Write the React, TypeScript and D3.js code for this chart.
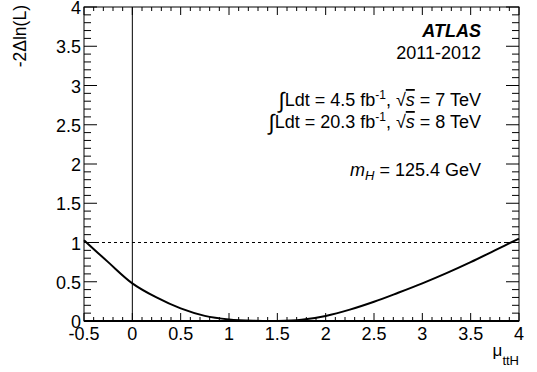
import React from "react";
import * as d3 from "d3";

// profile likelihood scan
const muValues = [-0.5, -0.25, 0, 0.25, 0.5, 0.75, 1, 1.25, 1.5, 1.75, 2, 2.25, 2.5, 2.75, 3, 3.25, 3.5, 3.75, 4];
const nllValues = [1.03, 0.75, 0.48, 0.3, 0.16, 0.065, 0.02, 0.003, 0, 0.015, 0.065, 0.145, 0.245, 0.36, 0.48, 0.61, 0.75, 0.9, 1.05];
const xTicks = [-0.5, 0, 0.5, 1, 1.5, 2, 2.5, 3, 3.5, 4];
const yTicks = [0, 0.5, 1, 1.5, 2, 2.5, 3, 3.5, 4];

const W = 537;
const H = 372;
const left = 84;
const right = 519;
const top = 7;
const bottom = 321;
const font = "'Liberation Sans', Arial, sans-serif";

const App = () => {
  const x = d3.scaleLinear().domain([-0.5, 4]).range([left, right]);
  const y = d3.scaleLinear().domain([0, 4]).range([bottom, top]);

  const line = d3
    .line<number>()
    .x((d, i) => x(muValues[i]))
    .y((d) => Math.min(y(d), bottom))
    .curve(d3.curveCatmullRom);

  const xMinor = d3.range(-0.5, 4.001, 0.1).map((v) => +v.toFixed(2));
  const yMinor = d3.range(0, 4.001, 0.1).map((v) => +v.toFixed(2));
  const isMajor = (v: number) => Math.abs(v * 2 - Math.round(v * 2)) < 1e-6;

  return (
    <svg width={W} height={H} style={{ position: "absolute", left: 0, top: 0, background: "white" }} fontFamily={font}>
      {/* vertical line at 0 and dashed line at 1 */}
      <line x1={x(0)} x2={x(0)} y1={top} y2={bottom} stroke="black" strokeWidth={1} />
      <line x1={left} x2={right} y1={y(1)} y2={y(1)} stroke="black" strokeWidth={1} strokeDasharray="3,3" />

      <path d={line(nllValues) || ""} fill="none" stroke="black" strokeWidth={2} />

      {/* ticks, inside, all four sides */}
      <g stroke="black" strokeWidth={1}>
        {xMinor.map((v) => {
          const len = isMajor(v) ? 8 : 4;
          return (
            <g key={"x" + v}>
              <line x1={x(v)} x2={x(v)} y1={bottom} y2={bottom - len} />
              <line x1={x(v)} x2={x(v)} y1={top} y2={top + len} />
            </g>
          );
        })}
        {yMinor.map((v) => {
          const len = isMajor(v) ? 13 : 7;
          return (
            <g key={"y" + v}>
              <line x1={left} x2={left + len} y1={y(v)} y2={y(v)} />
              <line x1={right} x2={right - len} y1={y(v)} y2={y(v)} />
            </g>
          );
        })}
      </g>

      <rect x={left} y={top} width={right - left} height={bottom - top} fill="none" stroke="black" strokeWidth={1} />
      <line x1={left} x2={right} y1={bottom} y2={bottom} stroke="black" strokeWidth={2} />

      {/* tick labels */}
      <g fontSize={18} fill="black">
        {xTicks.map((v) => (
          <text key={"xl" + v} x={x(v)} y={339.5} textAnchor="middle">
            {v}
          </text>
        ))}
        {yTicks.map((v) => (
          <text key={"yl" + v} x={left - 3} y={y(v) + 7} textAnchor="end">
            {v}
          </text>
        ))}
      </g>

      {/* axis titles */}
      <text transform={`translate(26,${top - 2}) rotate(-90)`} textAnchor="end" fontSize={17.5}>
        -2Δln(L)
      </text>
      <text x={519} y={356} textAnchor="end" fontSize={17}>
        μ<tspan fontSize={13} dy={9}>ttH</tspan>
      </text>

      {/* labels */}
      <g fontSize={18} textAnchor="end">
        <text x={481} y={37} fontWeight="bold" fontStyle="italic">ATLAS</text>
        <text x={481} y={59}>2011-2012</text>
        <text x={481} y={106}>
          <tspan fontSize={22} dy={2}>∫</tspan>
          <tspan dy={-2}>Ldt = 4.5 fb</tspan>
          <tspan fontSize={12} dy={-7}>-1</tspan>
          <tspan dy={7}>, √</tspan>
          <tspan fontStyle="italic" textDecoration="overline">s</tspan>
          <tspan> = 7 TeV</tspan>
        </text>
        <text x={481} y={128}>
          <tspan fontSize={22} dy={2}>∫</tspan>
          <tspan dy={-2}>Ldt = 20.3 fb</tspan>
          <tspan fontSize={12} dy={-7}>-1</tspan>
          <tspan dy={7}>, √</tspan>
          <tspan fontStyle="italic" textDecoration="overline">s</tspan>
          <tspan> = 8 TeV</tspan>
        </text>
        <text x={481} y={176}>
          <tspan fontStyle="italic">m</tspan>
          <tspan fontStyle="italic" fontSize={13} dy={4}>H</tspan>
          <tspan dy={-4}> = 125.4 GeV</tspan>
        </text>
      </g>
    </svg>
  );
};

export default App;
